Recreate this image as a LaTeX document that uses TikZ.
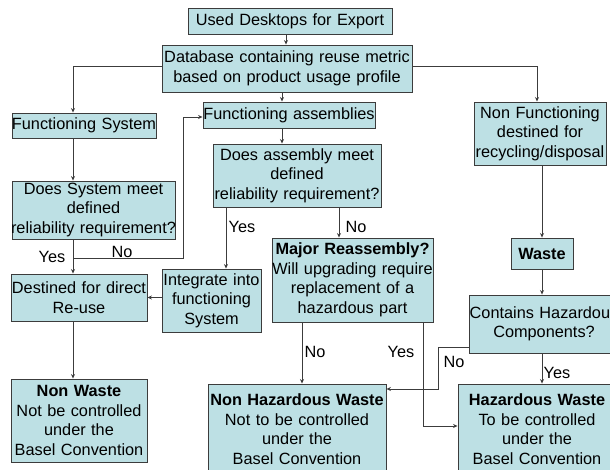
\documentclass[tikz,border=0pt]{standalone}
\usepackage{fontspec}
\setmainfont{Liberation Sans}
\usetikzlibrary{arrows.meta}
\definecolor{boxfill}{RGB}{189,224,228}
\definecolor{edge}{RGB}{60,60,60}
\begin{document}
\begin{tikzpicture}[x=1pt,y=-1pt,
  box/.style={draw=edge, fill=boxfill, line width=0.9pt, inner ysep=0pt, inner xsep=-20pt,
    align=center, font=\fontsize{16.3}{19.5}\selectfont},
  arr/.style={draw=edge, line width=0.8pt, -{Stealth[length=4.5pt,width=4pt]}},
  ln/.style={draw=edge, line width=0.8pt},
  lab/.style={font=\fontsize{16.3}{19.5}\selectfont, inner sep=0pt}]
\useasboundingbox (0,0) rectangle (610,470);
\begin{scope}
\clip (0,0) rectangle (610,470);
\node[box, text width=244pt, minimum height=26pt] (used) at (290,21) {Used Desktops for Export};
\node[box, text width=290pt, minimum height=47pt] (db) at (287,68.5) {Database containing reuse metric\\based on product usage profile};
\node[box, text width=184pt, minimum height=25pt] (fsys) at (84,125.5) {Functioning System};
\node[box, text width=212pt, minimum height=26pt] (fasm) at (289,115) {Functioning assemblies};
\node[box, text width=208pt, minimum height=63pt] (qasm) at (297,175.5) {Does assembly meet\\defined\\reliability requirement?};
\node[box, text width=172pt, minimum height=63pt] (nonf) at (540,133.5) {Non Functioning\\destined for\\recycling/disposal};
\node[box, text width=203pt, minimum height=58pt] (qsys) at (93.5,210) {Does System meet\\defined\\reliability requirement?};
\node[box, text width=176pt, minimum height=47pt] (dest) at (79,297.5) {Destined for direct\\Re-use};
\node[box, text width=139pt, minimum height=63pt] (integ) at (211.5,300.5) {Integrate into\\functioning\\System};
\node[box, text width=201pt, minimum height=84pt] (major) at (352.5,280) {\textbf{Major Reassembly?}\\Will upgrading require\\replacement of a\\hazardous part};
\node[box, text width=102pt, minimum height=31pt] (waste) at (542,253.5) {\textbf{Waste}};
\node[box, text width=190pt, minimum height=58pt] (contains) at (544,324) {Contains Hazardous\\Components?};
\node[box, text width=176pt, minimum height=83pt] (nonwaste) at (79,420.5) {\textbf{Non Waste}\\Not be controlled\\under the\\Basel Convention};
\node[box, text width=218pt, minimum height=90pt] (nonhaz) at (297,429) {\textbf{Non Hazardous Waste}\\Not to be controlled\\under the\\Basel Convention};
\node[box, text width=198pt, minimum height=90pt] (hazw) at (537,429) {\textbf{Hazardous Waste}\\To be controlled\\under the\\Basel Convention};

% connectors
\draw[arr] ([xshift=-4pt]used.south) -- ([xshift=-4pt]used.south |- db.north);
\draw[arr] ([yshift=2.5pt]db.west) -| ([xshift=-11pt]fsys.north);
\draw[arr] ([yshift=2.5pt]db.east) -| ([xshift=-3pt]nonf.north);
\draw[arr] ([xshift=-5pt]db.south) -- ([xshift=-5pt]db.south |- fasm.north);
\draw[arr] ([xshift=-7pt]fasm.south) -- ([xshift=-7pt]fasm.south |- qasm.north);
\draw[arr] ([xshift=-11pt]fsys.south) -- ([xshift=-11pt]fsys.south |- qsys.north);
\draw[arr] ([xshift=-6pt]dest.north |- qsys.south) -- ([xshift=-6pt]dest.north);
\coordinate (nob) at (73,258);
\coordinate (nobr) at (183,258);
\draw[arr] (nob) -- (nobr) |- ([yshift=-2pt]fasm.west);
\node[lab] (yes1) at (52,257) {Yes};
\node[lab] (no1) at (122,252) {No};
\draw[arr] ([xshift=14.5pt]integ.north |- qasm.south) -- ([xshift=14.5pt]integ.north);
\node[lab] (yes2) at (242,227) {Yes};
\draw[arr] ([xshift=-13.5pt]major.north |- qasm.south) -- ([xshift=-13.5pt]major.north);
\node[lab] (no2) at (356,227) {No};
\draw[arr] (dest.east -| integ.west) -- (dest.east);
\draw[arr] ([xshift=-6pt]dest.south) -- ([xshift=-6pt]nonwaste.north);
\draw[arr] (nonf.south -| waste.north) -- (waste.north);
\draw[arr] (waste.south) -- (waste.south |- contains.north);
\draw[arr] (waste.south |- contains.south) -- (waste.south |- hazw.north);
\node[lab] (yes3) at (557,373) {Yes};
\coordinate (cnot) at (438,389);
\draw[arr] ([yshift=6pt]contains.south west) -| (cnot) -- (cnot -| nonhaz.east);
\node[lab] (no3) at (454,362) {No};
\draw[arr] ([xshift=-50.5pt]major.south) -- ([xshift=-50.5pt]major.south |- nonhaz.north);
\node[lab] (no4) at (315,352) {No};
\draw[arr] ([xshift=70.5pt]major.south) |- ([yshift=3pt]hazw.west);
\node[lab] (yes4) at (401,352) {Yes};
\end{scope}
\end{tikzpicture}
\end{document}
